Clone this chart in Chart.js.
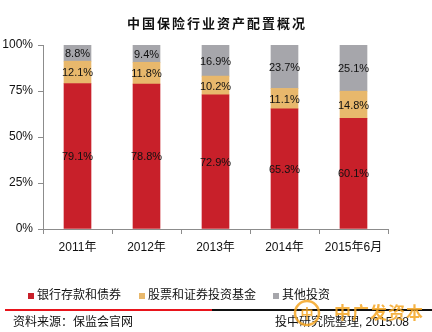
<!DOCTYPE html>
<html>
<head>
<meta charset="utf-8">
<script src="https://cdn.jsdelivr.net/npm/chart.js@4"></script>
<style>
  html, body { margin: 0; padding: 0; background: #fff; }
  #wrap { width: 432px; height: 332px; position: relative; }
</style>
</head>
<body>
<div id="wrap"><canvas id="assetChart" width="432" height="332"></canvas></div>
<script>
// 数据
const categories = ['2011年', '2012年', '2013年', '2014年', '2015年6月'];
const bankDeposits = [79.1, 78.8, 72.9, 65.3, 60.1];
const stockFunds = [12.1, 11.8, 10.2, 11.1, 14.8];
const otherInvest = [8.8, 9.4, 16.9, 23.7, 25.1];
const seriesNames = ['银行存款和债券', '股票和证券投资基金', '其他投资'];
const yTicks = [0, 25, 50, 75, 100];

const colors = ['#C8202A', '#E8B86C', '#A6A6AB'];
const latin = '"Liberation Sans", Arial, sans-serif';
const cjk = '"Liberation Sans", "Noto Sans CJK SC", sans-serif';

// 数据标签
const labelPlugin = {
  id: 'segLabels',
  afterDatasetsDraw(chart) {
    const ctx = chart.ctx;
    ctx.save();
    ctx.font = '11px ' + latin;
    ctx.fillStyle = '#111';
    ctx.textAlign = 'center';
    ctx.textBaseline = 'middle';
    chart.data.datasets.forEach((ds, i) => {
      chart.getDatasetMeta(i).data.forEach((bar, j) => {
        const y = (bar.y + bar.base) / 2;
        ctx.fillText(ds.data[j].toFixed(1) + '%', bar.x, y + 1);
      });
    });
    ctx.restore();
  }
};

// 标题、图例、来源、水印
const decorPlugin = {
  id: 'decor',
  afterDraw(chart) {
    const ctx = chart.ctx;
    ctx.save();
    // 标题
    ctx.font = 'bold 13px "Noto Sans CJK SC", sans-serif';
    ctx.fillStyle = '#111';
    ctx.textAlign = 'center';
    ctx.textBaseline = 'middle';
    ctx.letterSpacing = '2px';
    ctx.fillText('中国保险行业资产配置概况', 217, 23);
    ctx.letterSpacing = '0px';

    // 图例
    const legendX = [28, 139, 273];
    ctx.font = '12px ' + cjk;
    ctx.textAlign = 'left';
    seriesNames.forEach((name, i) => {
      ctx.fillStyle = colors[i];
      ctx.fillRect(legendX[i], 293, 6, 6);
      ctx.fillStyle = '#111';
      ctx.fillText(name, legendX[i] + 9, 296);
    });

    // 分隔线
    ctx.fillStyle = '#E8141B';
    ctx.fillRect(5, 309, 207, 2);
    ctx.fillStyle = '#111';
    ctx.fillRect(212, 309, 220, 2);

    // 来源
    ctx.fillStyle = '#111';
    ctx.font = '12px ' + cjk;
    ctx.fillText('资料来源：保监会官网', 13, 323);
    ctx.textAlign = 'right';
    ctx.fillText('投中研究院整理, 2015.08', 409, 323);

    // 水印
    ctx.globalAlpha = 0.85;
    ctx.strokeStyle = '#F5A623';
    ctx.lineWidth = 2.5;
    ctx.beginPath();
    ctx.arc(307, 313, 12, 0, Math.PI * 2);
    ctx.stroke();
    ctx.fillStyle = '#F5A623';
    ctx.font = 'bold 13px "Noto Sans CJK SC", sans-serif';
    ctx.textAlign = 'center';
    ctx.fillText('中', 307, 313);
    ctx.font = 'bold 17px "Noto Sans CJK SC", sans-serif';
    ctx.textAlign = 'left';
    ctx.letterSpacing = '1px';
    ctx.fillText('中广发资本', 334, 313);
    ctx.restore();
  }
};

const ctx = document.getElementById('assetChart').getContext('2d');
const assetChart = new Chart(ctx, {
  type: 'bar',
  data: {
    labels: categories,
    datasets: [
      { label: seriesNames[0], data: bankDeposits, backgroundColor: colors[0] },
      { label: seriesNames[1], data: stockFunds, backgroundColor: colors[1] },
      { label: seriesNames[2], data: otherInvest, backgroundColor: colors[2] },
    ],
  },
  options: {
    responsive: false,
    animation: false,
    layout: { padding: { top: 45, right: 44, left: 0, bottom: 0 } },
    plugins: {
      legend: { display: false },
      title: { display: false },
      tooltip: { enabled: false },
    },
    datasets: { bar: { barThickness: 27, borderWidth: 0 } },
    scales: {
      x: {
        stacked: true,
        grid: { display: true, drawOnChartArea: false, drawTicks: true, tickLength: 5, color: '#8C8C8C', offset: true },
        border: { display: true, color: '#8C8C8C', width: 1 },
        ticks: { color: '#111', font: { family: cjk, size: 12 }, padding: 6, maxRotation: 0 },
        afterFit(scale) { scale.height = 103; },
      },
      y: {
        stacked: true,
        min: 0,
        max: 100,
        afterBuildTicks(scale) { scale.ticks = yTicks.map(v => ({ value: v })); },
        grid: { display: true, drawOnChartArea: false, drawTicks: true, tickLength: 5, color: '#8C8C8C' },
        border: { display: true, color: '#8C8C8C', width: 1 },
        ticks: { color: '#111', font: { family: latin, size: 12 }, padding: 5, callback: v => v + '%' },
        afterFit(scale) { scale.width = 43; },
      },
    },
  },
  plugins: [labelPlugin, decorPlugin],
});
</script>
</body>
</html>
